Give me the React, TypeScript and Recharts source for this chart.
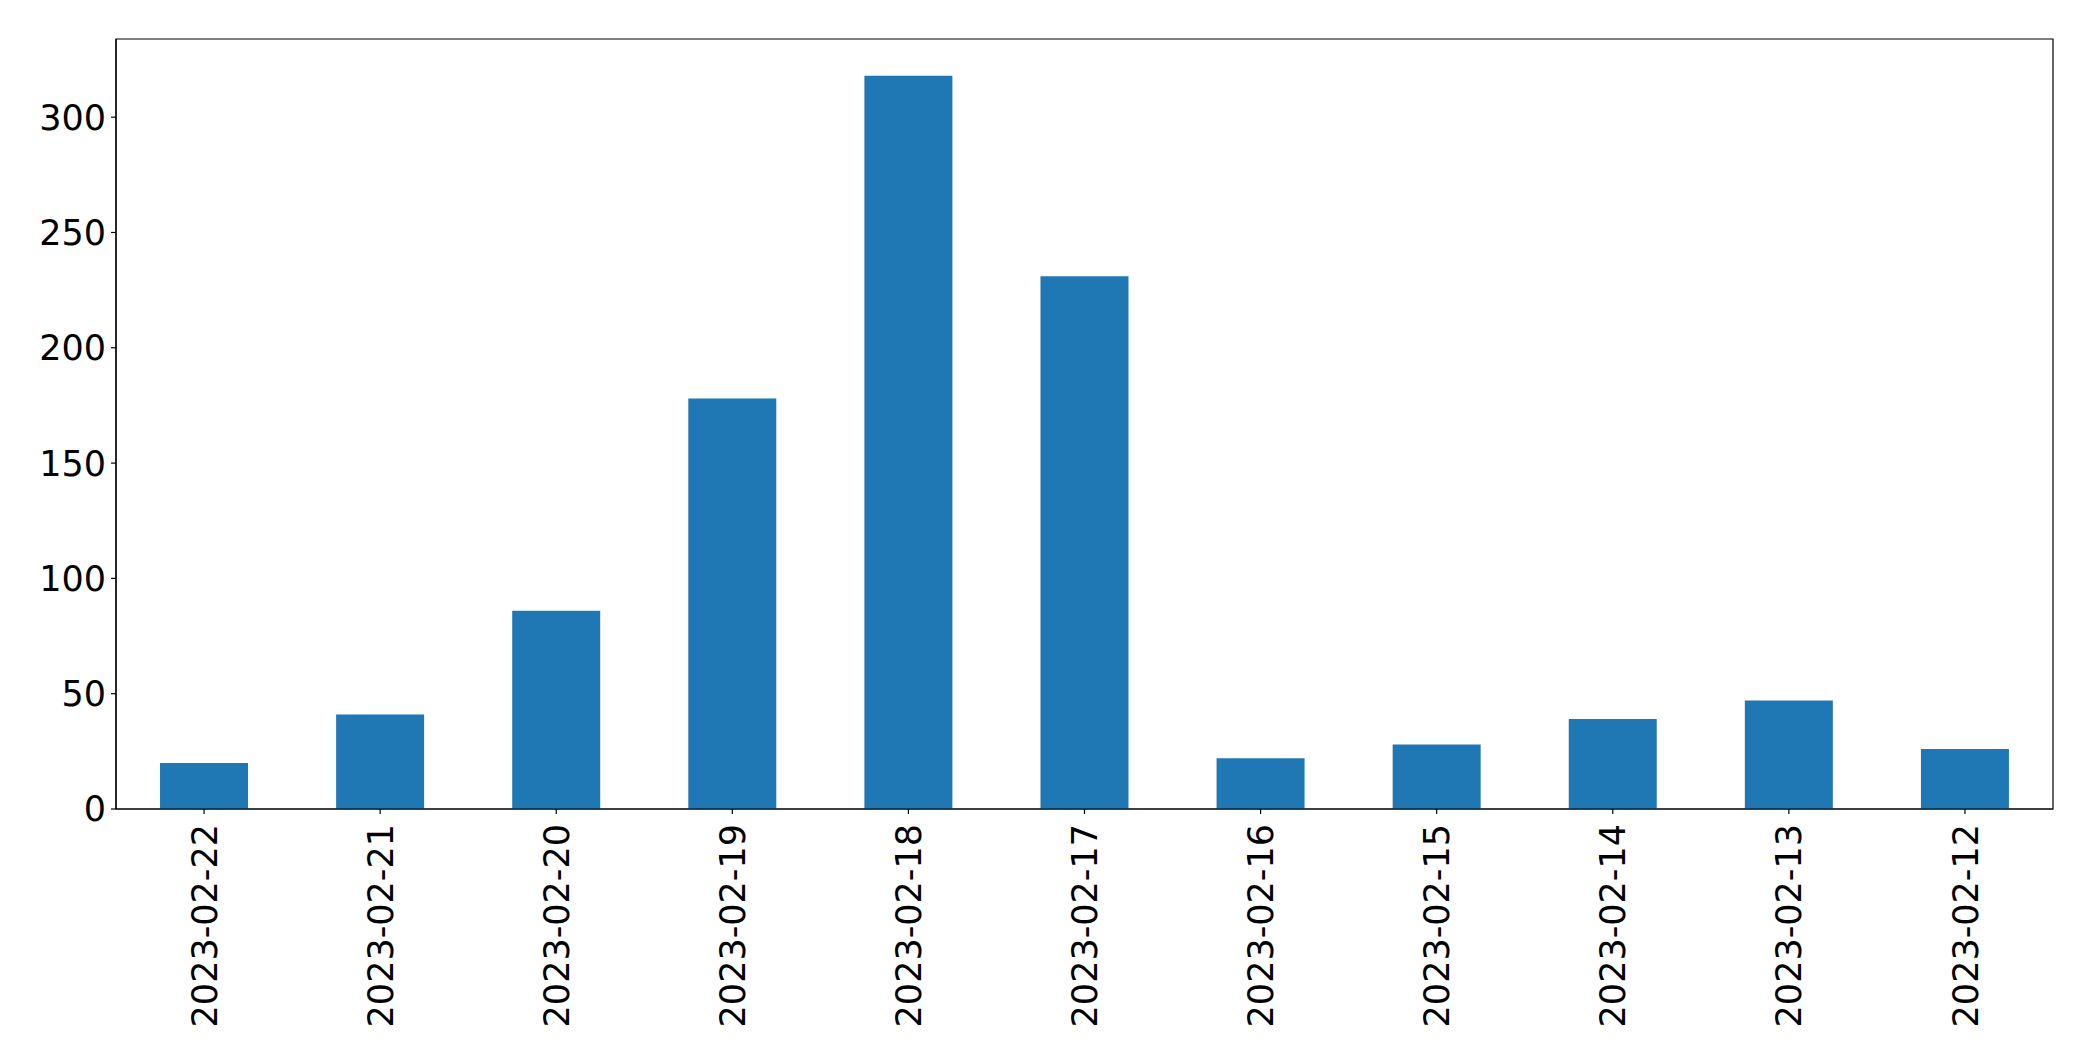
import React from "react";
import { BarChart, Bar, XAxis, YAxis, ReferenceArea } from "recharts";

const dates = [
  "2023-02-22", "2023-02-21", "2023-02-20", "2023-02-19", "2023-02-18", "2023-02-17",
  "2023-02-16", "2023-02-15", "2023-02-14", "2023-02-13", "2023-02-12",
];
const counts = [20, 41, 86, 178, 318, 231, 22, 28, 39, 47, 26];
const yTicks = [0, 50, 100, 150, 200, 250, 300];
const yMax = 333.9;

const data = dates.map((d, i) => ({ date: d, count: counts[i] }));

const FONT = "'DejaVu Sans', sans-serif";

const XTick = (props: any) => {
  const { x, y, payload } = props;
  return (
    <g transform={`translate(${x},${y})`}>
      <text
        transform="rotate(-90)"
        x={-10}
        y={0}
        dy="0.36em"
        textAnchor="end"
        fill="#000"
        fontSize={35}
        fontFamily={FONT}
      >
        {payload.value}
      </text>
    </g>
  );
};

export default function App() {
  return (
    <BarChart
      width={2077}
      height={1045}
      data={data}
      margin={{ top: 31, right: 32, bottom: 0, left: 0 }}
      barCategoryGap="25%"
    >
      <XAxis
        dataKey="date"
        height={244}
        tick={<XTick />}
        tickSize={5}
        tickMargin={0}
        interval={0}
        axisLine={{ stroke: "#000", strokeWidth: 1.2 }}
        tickLine={{ stroke: "#000", strokeWidth: 1.2 }}
      />
      <YAxis
        width={108}
        domain={[0, yMax]}
        ticks={yTicks}
        tickSize={5}
        tickMargin={5}
        allowDataOverflow
        axisLine={{ stroke: "#000", strokeWidth: 1.2 }}
        tickLine={{ stroke: "#000", strokeWidth: 1.2 }}
        tick={{ fill: "#000", fontSize: 35, fontFamily: FONT }}
      />
      <Bar dataKey="count" fill="#1f77b4" isAnimationActive={false} />
      <ReferenceArea
        y1={0}
        y2={yMax}
        fill="none"
        fillOpacity={0}
        stroke="#000"
        strokeWidth={1.2}
        strokeOpacity={1}
        ifOverflow="extendDomain"
      />
    </BarChart>
  );
}
